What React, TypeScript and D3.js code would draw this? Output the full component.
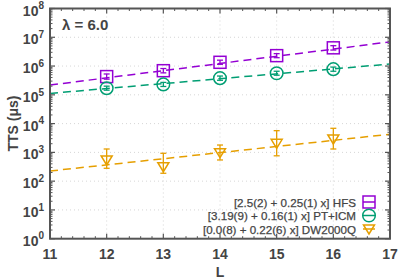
import * as d3 from 'd3';

// data
const sizes = [12, 13, 14, 15, 16];
const hfsTTS = [4.3e5, 6.9e5, 1.35e6, 2.3e6, 4.3e6];
const hfsLow = [3.5e5, 5.8e5, 1.15e6, 1.95e6, 3.6e6];
const hfsHigh = [5.3e5, 8.2e5, 1.6e6, 2.7e6, 5.1e6];
const ptTTS = [1.7e5, 2.3e5, 3.8e5, 5.6e5, 7.8e5];
const ptLow = [1.45e5, 1.95e5, 3.2e5, 4.8e5, 6.6e5];
const ptHigh = [2.0e5, 2.7e5, 4.5e5, 6.6e5, 9.2e5];
const dwTTS = [545, 318, 977, 2070, 2920];
const dwLow = [280, 188, 545, 760, 1310];
const dwHigh = [1310, 930, 1800, 5680, 6870];

// fitted log10(TTS) = a + b * L
const fitIntercept = [2.59, 3.18, 0.01];
const fitSlope = [0.25, 0.17, 0.213];
const legendLabels = [
  '[2.5(2) + 0.25(1) x] HFS',
  '[3.19(9) + 0.16(1) x] PT+ICM',
  '[0.0(8) + 0.22(6) x] DW2000Q',
];
const colors = ['#9400d3', '#009e73', '#e69f00'];
const xTicks = [11, 12, 13, 14, 15, 16, 17];
const yExponents = [0, 1, 2, 3, 4, 5, 6, 7, 8];

const W = 399;
const H = 279;
const m = { left: 50, right: 9, top: 8.5, bottom: 40.3 };
const font = "'Liberation Sans', Arial, sans-serif";
const axisColor = '#555';
const textColor = '#444';

export default function App() {
  const x = d3.scaleLinear().domain([11, 17]).range([m.left, W - m.right]);
  const y = d3.scaleLog().domain([1, 1e8]).range([H - m.bottom, m.top]);
  const x0 = x.range()[0], x1 = x.range()[1];
  const y0 = y.range()[0], y1 = y.range()[1];

  const series = [
    { v: hfsTTS, lo: hfsLow, hi: hfsHigh, shape: 'square' },
    { v: ptTTS, lo: ptLow, hi: ptHigh, shape: 'circle' },
    { v: dwTTS, lo: dwLow, hi: dwHigh, shape: 'tri' },
  ];

  const xMinor = d3.range(11, 17.001, 0.2).filter((t) => Math.abs(t - Math.round(t)) > 0.01);
  const yMinor: number[] = [];
  for (let e = 0; e < 8; e++) for (let k = 2; k < 10; k++) yMinor.push(k * Math.pow(10, e));

  const marker = (shape: string, cx: number, cy: number, c: string, key: string) => {
    if (shape === 'square')
      return <rect key={key} x={cx - 6} y={cy - 6} width={12} height={12} fill="none" stroke={c} strokeWidth={1.5} />;
    if (shape === 'circle')
      return <circle key={key} cx={cx} cy={cy} r={6.3} fill="none" stroke={c} strokeWidth={1.5} />;
    return (
      <path key={key} d={`M${cx - 5.5},${cy - 4}L${cx + 5.5},${cy - 4}L${cx},${cy + 5}Z`} fill="none" stroke={c} strokeWidth={1.5} />
    );
  };

  return (
    <svg width={W} height={H} style={{ position: 'absolute', left: 0, top: 0 }} fontFamily={font}>
      <rect width={W} height={H} fill="#fff" />
      {/* grid */}
      {xTicks.slice(1, -1).map((t) => (
        <line key={'gx' + t} x1={x(t)} x2={x(t)} y1={y1} y2={y0} stroke="#ccc" strokeDasharray="1,3" strokeWidth={0.8} />
      ))}
      {yExponents.slice(1, -1).map((e) => (
        <line key={'gy' + e} x1={x0} x2={x1} y1={y(Math.pow(10, e))} y2={y(Math.pow(10, e))} stroke="#ccc" strokeDasharray="1,3" strokeWidth={0.8} />
      ))}
      {/* fit lines */}
      {series.map((s, i) => {
        const pts = [11, 17].map((l) => [x(l), y(Math.pow(10, fitIntercept[i] + fitSlope[i] * l))]);
        return (
          <line key={'fit' + i} x1={pts[0][0]} y1={pts[0][1]} x2={pts[1][0]} y2={pts[1][1]} stroke={colors[i]} strokeWidth={1.5} strokeDasharray="8,5" />
        );
      })}
      {/* points with error bars */}
      {series.map((s, i) =>
        sizes.map((l, j) => {
          const cx = x(l);
          return (
            <g key={`p${i}-${j}`}>
              <line x1={cx} x2={cx} y1={y(s.lo[j])} y2={y(s.hi[j])} stroke={colors[i]} strokeWidth={1.3} />
              <line x1={cx - 3} x2={cx + 3} y1={y(s.lo[j])} y2={y(s.lo[j])} stroke={colors[i]} strokeWidth={1.3} />
              <line x1={cx - 3} x2={cx + 3} y1={y(s.hi[j])} y2={y(s.hi[j])} stroke={colors[i]} strokeWidth={1.3} />
              {marker(s.shape, cx, y(s.v[j]), colors[i], 'm')}
            </g>
          );
        })
      )}
      {/* ticks on all sides */}
      {xTicks.map((t) => (
        <g key={'xt' + t}>
          <line x1={x(t)} x2={x(t)} y1={y0} y2={y0 - 5} stroke={axisColor} strokeWidth={1.2} />
          <line x1={x(t)} x2={x(t)} y1={y1} y2={y1 + 5} stroke={axisColor} strokeWidth={1.2} />
          <text x={x(t)} y={y0 + 20} textAnchor="middle" fontSize={14} fontWeight="bold" fill={textColor}>
            {t}
          </text>
        </g>
      ))}
      {xMinor.map((t, i) => (
        <g key={'xm' + i}>
          <line x1={x(t)} x2={x(t)} y1={y0} y2={y0 - 2.5} stroke={axisColor} strokeWidth={1} />
          <line x1={x(t)} x2={x(t)} y1={y1} y2={y1 + 2.5} stroke={axisColor} strokeWidth={1} />
        </g>
      ))}
      {yExponents.map((e) => {
        const yy = y(Math.pow(10, e));
        return (
          <g key={'yt' + e}>
            <line x1={x0} x2={x0 + 5} y1={yy} y2={yy} stroke={axisColor} strokeWidth={1.2} />
            <line x1={x1} x2={x1 - 5} y1={yy} y2={yy} stroke={axisColor} strokeWidth={1.2} />
            <text x={x0 - 6} y={yy + 7} textAnchor="end" fontSize={14} fontWeight="bold" fill={textColor}>
              10
              <tspan fontSize={10} dy={-6.3}>
                {e}
              </tspan>
            </text>
          </g>
        );
      })}
      {yMinor.map((v, i) => (
        <g key={'ym' + i}>
          <line x1={x0} x2={x0 + 2.5} y1={y(v)} y2={y(v)} stroke={axisColor} strokeWidth={1} />
          <line x1={x1} x2={x1 - 2.5} y1={y(v)} y2={y(v)} stroke={axisColor} strokeWidth={1} />
        </g>
      ))}
      <rect x={x0} y={y1} width={x1 - x0} height={y0 - y1} fill="none" stroke={axisColor} strokeWidth={2} />
      {/* labels */}
      <text x={(x0 + x1) / 2} y={277} textAnchor="middle" fontSize={14} fontWeight="bold" fill={textColor}>
        L
      </text>
      <text transform={`translate(18,${(y0 + y1) / 2}) rotate(-90)`} textAnchor="middle" fontSize={14} fontWeight="bold" fill={textColor}>
        TTS (μs)
      </text>
      <text x={62} y={30} fontSize={15} fontWeight="bold" fill={textColor}>
        λ = 6.0
      </text>
      {/* legend */}
      {legendLabels.map((lab, i) => {
        const ly = 202 + i * 13.5;
        const sx = 369;
        return (
          <g key={'lg' + i}>
            <text x={356} y={ly + 4.5} textAnchor="end" fontSize={11.6} fill={textColor} stroke={textColor} strokeWidth={0.25}>
              {lab}
            </text>
            <line x1={sx - 6} x2={sx + 6} y1={ly} y2={ly} stroke={colors[i]} strokeWidth={1.5} />
            {marker(series[i].shape, sx, ly, colors[i], 'lm')}
          </g>
        );
      })}
    </svg>
  );
}
